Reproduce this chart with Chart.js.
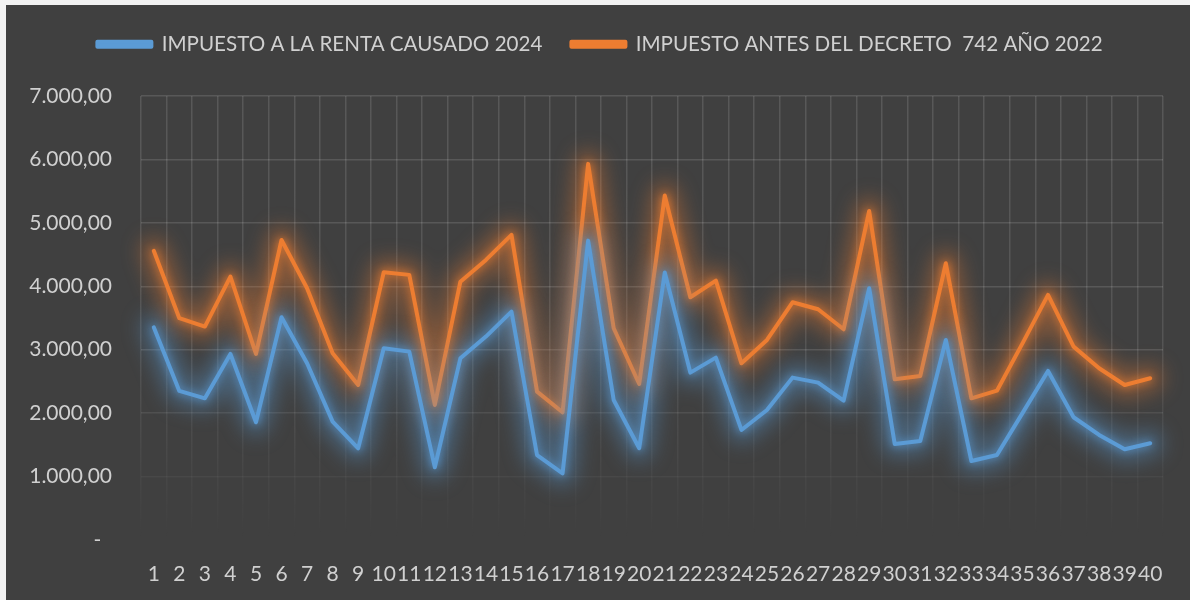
<!DOCTYPE html>
<html>
<head>
<meta charset="utf-8">
<script src="https://cdn.jsdelivr.net/npm/chart.js@4/dist/chart.umd.min.js"></script>
<style>
  body { margin: 0; background: #f2f2f2; }
  #wrap { position: absolute; left: 6px; top: 5px; width: 1184px; height: 595px; background: #404040; }
</style>
</head>
<body>
<div id="wrap"><canvas id="chart"></canvas></div>
<script>
const categories = Array.from({ length: 40 }, (_, i) => String(i + 1));

const renta2024 = [
    3354, 2350, 2234, 2933, 1856, 3512, 2786, 1866, 1446, 3022,
    2970, 1146, 2864, 3207, 3601, 1340, 1051, 4720, 2208, 1446,
    4216, 2639, 2875, 1735, 2050, 2560, 2481, 2197, 3970, 1514,
    1561, 3154, 1246, 1340, 2000, 2665, 1935, 1656, 1430, 1525
];

const antesDecreto = [
    4560, 3497, 3365, 4153, 2933, 4730, 3970, 2944, 2444, 4222,
    4180, 2129, 4073, 4416, 4810, 2340, 2013, 5930, 3338, 2460,
    5430, 3827, 4090, 2786, 3154, 3748, 3638, 3322, 5187, 2533,
    2585, 4363, 2234, 2354, 3100, 3864, 3049, 2708, 2444, 2550
];

const yTicks = [0, 1000, 2000, 3000, 4000, 5000, 6000, 7000];

const textColor = '#d0d0d0';
const fontFamily = 'Lato, "Open Sans", sans-serif';

// soft glow: a wide blurred stroke along the line's own points
const glow = {
    id: 'glow',
    beforeDatasetDraw(chart, args) {
        const ctx = chart.ctx;
        const pts = args.meta.data;
        ctx.save();
        ctx.filter = 'blur(10px)';
        ctx.globalAlpha = 0.4;
        ctx.strokeStyle = args.meta.dataset.options.borderColor;
        ctx.lineWidth = 26;
        ctx.lineJoin = 'round';
        ctx.lineCap = 'round';
        ctx.beginPath();
        pts.forEach((p, i) => (i ? ctx.lineTo(p.x, p.y) : ctx.moveTo(p.x, p.y)));
        ctx.stroke();
        ctx.restore();
        ctx.save();
        ctx.shadowColor = args.meta.dataset.options.borderColor;
        ctx.shadowBlur = 8;
    },
    afterDatasetDraw(chart) {
        chart.ctx.restore();
    }
};

// legend block: fixed height, nudged to the right like the original
const legendSpace = {
    id: 'legendSpace',
    beforeInit(chart) {
        const fit = chart.legend.fit;
        chart.legend.fit = function () {
            fit.bind(chart.legend)();
            this.height = 91;
        };
    },
    afterLayout(chart) {
        chart.legend.right = 1188;
    }
};

function verticalGrid(context) {
    const chart = context.chart;
    const area = chart.chartArea;
    if (!area) return 'rgba(255,255,255,0.13)';
    const g = chart.ctx.createLinearGradient(0, area.top, 0, area.bottom);
    g.addColorStop(0, 'rgba(255,255,255,0.13)');
    g.addColorStop(0.55, 'rgba(255,255,255,0.11)');
    g.addColorStop(1, 'rgba(255,255,255,0)');
    return g;
}

function horizontalGrid(context) {
    const v = context.tick ? context.tick.value : 7000;
    const a = v >= 3000 ? 0.13 : 0.13 * v / 3000;
    return 'rgba(255,255,255,' + a.toFixed(3) + ')';
}

function formatTick(value) {
    if (value === 0) return '-  ';
    return value.toLocaleString('de-DE', { minimumFractionDigits: 2, maximumFractionDigits: 2 });
}

new Chart(document.getElementById('chart'), {
    type: 'line',
    data: {
        labels: categories,
        datasets: [
            {
                label: 'IMPUESTO A LA RENTA CAUSADO 2024',
                data: renta2024,
                borderColor: '#5B9BD5',
                backgroundColor: '#5B9BD5',
                borderWidth: 4,
                borderJoinStyle: 'round',
                borderCapStyle: 'round',
                pointRadius: 0,
                tension: 0
            },
            {
                label: 'IMPUESTO ANTES DEL DECRETO  742 AÑO 2022',
                data: antesDecreto,
                borderColor: '#ED7D31',
                backgroundColor: '#ED7D31',
                borderWidth: 4,
                borderJoinStyle: 'round',
                borderCapStyle: 'round',
                pointRadius: 0,
                tension: 0
            }
        ]
    },
    options: {
        responsive: true,
        maintainAspectRatio: false,
        animation: false,
        layout: { padding: { top: 0, right: 27, left: 0, bottom: 0 } },
        plugins: {
            legend: {
                position: 'top',
                labels: {
                    color: textColor,
                    boxWidth: 54,
                    boxHeight: 5,
                    padding: 29,
                    font: { family: fontFamily, size: 20.6 }
                }
            },
            tooltip: { enabled: false }
        },
        scales: {
            x: {
                offset: true,
                grid: { offset: true, color: verticalGrid, drawTicks: false, lineWidth: 1.5 },
                border: { display: false },
                ticks: {
                    color: textColor,
                    autoSkip: false,
                    maxRotation: 0,
                    padding: 22,
                    font: { family: fontFamily, size: 21 }
                },
                afterFit(scale) { scale.height = 60; }
            },
            y: {
                min: 0,
                max: 7000,
                afterBuildTicks(scale) { scale.ticks = yTicks.map(v => ({ value: v })); },
                grid: { color: horizontalGrid, drawTicks: false, lineWidth: 1.5 },
                border: { display: false },
                ticks: {
                    color: textColor,
                    padding: 29,
                    callback: formatTick,
                    font: { family: fontFamily, size: 21 }
                },
                afterFit(scale) { scale.width = 135; }
            }
        }
    },
    plugins: [glow, legendSpace]
});
</script>
</body>
</html>
